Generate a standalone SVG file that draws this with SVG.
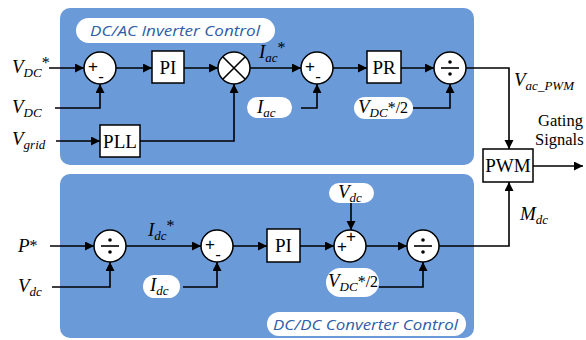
<svg xmlns="http://www.w3.org/2000/svg" width="586" height="340" viewBox="0 0 586 340">
<defs>
<marker id="ar" markerWidth="10" markerHeight="10" refX="9" refY="4.5" orient="auto" markerUnits="userSpaceOnUse">
<path d="M0,0 L9,4.5 L0,9 Z" fill="#000"/>
</marker>
<style>
.panel{fill:#6A9AD8;}
.pill{fill:#fff;stroke:none;}
.ttl{font-family:"Open Sans","Liberation Sans",sans-serif;font-style:italic;font-size:15px;fill:#2F5DA8;}
.blk{fill:#fff;stroke:#000;stroke-width:1.5;}
.bt{font-family:"Liberation Serif","Times New Roman",serif;font-size:19px;fill:#000;text-anchor:middle;}
.lbl{font-family:"Liberation Serif","Times New Roman",serif;font-style:italic;font-size:19px;fill:#000;}
.sub{font-size:13px;}
.st{font-style:normal;font-size:16px;}
.txt{font-family:"Liberation Serif","Times New Roman",serif;font-size:16.5px;fill:#000;}
.sym{font-family:"Liberation Sans",Arial,sans-serif;font-size:17px;fill:#000;text-anchor:middle;}
.a{fill:none;stroke:#000;stroke-width:1.6;marker-end:url(#ar);}
</style>
</defs>

<g id="panel-dcac">
<rect class="panel" x="60" y="8" width="414" height="157" rx="10"/>
<rect class="pill" x="76" y="18" width="199" height="25" rx="12.5"/>
<text class="ttl" x="90" y="36" textLength="170" lengthAdjust="spacingAndGlyphs">DC/AC Inverter Control</text>
</g>
<g id="panel-dcdc">
<rect class="panel" x="60" y="174" width="414" height="164" rx="10"/>
<rect class="pill" x="267" y="312" width="199" height="24" rx="12"/>
<text class="ttl" x="273" y="330" textLength="185" lengthAdjust="spacingAndGlyphs">DC/DC Converter Control</text>
</g>

<g id="in-vdcstar"><text class="lbl" x="12" y="73">V<tspan class="sub" dy="4">DC</tspan><tspan class="st" dy="-9">*</tspan></text></g>
<g id="in-vdc"><text class="lbl" x="12" y="113">V<tspan class="sub" dy="4">DC</tspan></text></g>
<g id="in-vgrid"><text class="lbl" x="12" y="145">V<tspan class="sub" dy="4">grid</tspan></text></g>

<g id="sum1">
<circle class="blk" cx="100" cy="68" r="16"/>
<text class="sym" x="93" y="72">+</text><text class="sym" x="101" y="82">-</text>
</g>
<g id="pi1"><rect class="blk" x="152" y="51" width="32" height="32"/><text class="bt" x="168" y="74">PI</text></g>
<g id="mult">
<circle class="blk" cx="234" cy="68" r="16"/>
<path d="M223,57 L245,79 M245,57 L223,79" stroke="#000" stroke-width="1.6"/>
</g>
<g id="pll"><rect class="blk" x="100" y="125" width="40" height="32"/><text class="bt" x="120" y="148">PLL</text></g>
<g id="lbl-iacstar"><text class="lbl" x="259" y="58">I<tspan class="sub" dy="4">ac</tspan><tspan class="st" dy="-9">*</tspan></text></g>
<g id="sum2">
<circle class="blk" cx="317" cy="68" r="16"/>
<text class="sym" x="310" y="72">+</text><text class="sym" x="318" y="82">-</text>
</g>
<g id="iac"><rect class="pill" x="247" y="97" width="45" height="21" rx="10.5"/><text class="lbl" x="257" y="113">I<tspan class="sub" dy="4">ac</tspan></text></g>
<g id="pr"><rect class="blk" x="367" y="51" width="34" height="32"/><text class="bt" x="384" y="74">PR</text></g>
<g id="div1">
<circle class="blk" cx="450" cy="68" r="16"/>
<line x1="441" y1="68" x2="459" y2="68" stroke="#000" stroke-width="1.6"/><circle cx="450" cy="62" r="1.8"/><circle cx="450" cy="74" r="1.8"/>
</g>
<g id="vdc2-top"><rect class="pill" x="354" y="97" width="59" height="22" rx="11"/><text class="lbl" x="358" y="113">V<tspan class="sub" dy="4">DC</tspan><tspan class="st" dy="-4">*/2</tspan></text></g>

<g id="lbl-vacpwm"><text class="lbl" x="514" y="86">V<tspan class="sub" dy="4">ac_PWM</tspan></text></g>
<g id="pwm"><rect class="blk" x="483" y="149" width="50" height="33"/><text class="bt" x="508" y="172">PWM</text></g>
<g id="gating"><text class="txt" x="538" y="126">Gating</text><text class="txt" x="535" y="145">Signals</text></g>
<g id="lbl-mdc"><text class="lbl" x="520" y="220">M<tspan class="sub" dy="4">dc</tspan></text></g>

<g id="in-pstar"><text class="lbl" x="18" y="252">P<tspan class="st" dy="-1">*</tspan></text></g>
<g id="in-vdc-b"><text class="lbl" x="18" y="292">V<tspan class="sub" dy="4">dc</tspan></text></g>
<g id="div2">
<circle class="blk" cx="110" cy="246" r="16"/>
<line x1="101" y1="246" x2="119" y2="246" stroke="#000" stroke-width="1.6"/><circle cx="110" cy="240" r="1.8"/><circle cx="110" cy="252" r="1.8"/>
</g>
<g id="lbl-idcstar"><text class="lbl" x="148" y="236">I<tspan class="sub" dy="4">dc</tspan><tspan class="st" dy="-9">*</tspan></text></g>
<g id="sum3">
<circle class="blk" cx="217" cy="246" r="16"/>
<text class="sym" x="210" y="250">+</text><text class="sym" x="218" y="260">-</text>
</g>
<g id="idc"><rect class="pill" x="143" y="275" width="37" height="23" rx="11.5"/><text class="lbl" x="150" y="291">I<tspan class="sub" dy="4">dc</tspan></text></g>
<g id="pi2"><rect class="blk" x="267" y="229" width="33" height="33"/><text class="bt" x="283.5" y="252">PI</text></g>
<g id="sum4">
<circle class="blk" cx="350" cy="246" r="16"/>
<text class="sym" x="342" y="252">+</text><text class="sym" x="351" y="242">+</text>
</g>
<g id="vdc-pill"><rect class="pill" x="329" y="183" width="45" height="20" rx="10"/><text class="lbl" x="338" y="198">V<tspan class="sub" dy="4">dc</tspan></text></g>
<g id="div3">
<circle class="blk" cx="423" cy="246" r="16"/>
<line x1="414" y1="246" x2="432" y2="246" stroke="#000" stroke-width="1.6"/><circle cx="423" cy="240" r="1.8"/><circle cx="423" cy="252" r="1.8"/>
</g>
<g id="vdc2-bot"><rect class="pill" x="326" y="268" width="53" height="29" rx="14.5"/><text class="lbl" x="328" y="287">V<tspan class="sub" dy="4">DC</tspan><tspan class="st" dy="-4">*/2</tspan></text></g>

<g id="connectors">
<line class="a" x1="49" y1="68" x2="84" y2="68"/>
<polyline class="a" points="55,108 100,108 100,84"/>
<line class="a" x1="116" y1="68" x2="152" y2="68"/>
<line class="a" x1="184" y1="68" x2="218" y2="68"/>
<line class="a" x1="56" y1="141" x2="100" y2="141"/>
<polyline class="a" points="140,141 234,141 234,84"/>
<line class="a" x1="250" y1="68" x2="301" y2="68"/>
<polyline class="a" points="301,108 317,108 317,84"/>
<line class="a" x1="333" y1="68" x2="367" y2="68"/>
<line class="a" x1="401" y1="68" x2="434" y2="68"/>
<polyline class="a" points="413,108 450,108 450,84"/>
<polyline class="a" points="466,68 509,68 509,149"/>
<line class="a" x1="533" y1="166" x2="583" y2="166"/>
<line class="a" x1="50" y1="246" x2="94" y2="246"/>
<polyline class="a" points="52,287 110,287 110,262"/>
<line class="a" x1="126" y1="246" x2="201" y2="246"/>
<polyline class="a" points="183,287 217,287 217,262"/>
<line class="a" x1="233" y1="246" x2="267" y2="246"/>
<line class="a" x1="300" y1="246" x2="334" y2="246"/>
<line class="a" x1="351" y1="203" x2="351" y2="230"/>
<line class="a" x1="366" y1="246" x2="407" y2="246"/>
<polyline class="a" points="379,287 423,287 423,262"/>
<polyline class="a" points="439,246 509,246 509,182"/>
</g>
</svg>
